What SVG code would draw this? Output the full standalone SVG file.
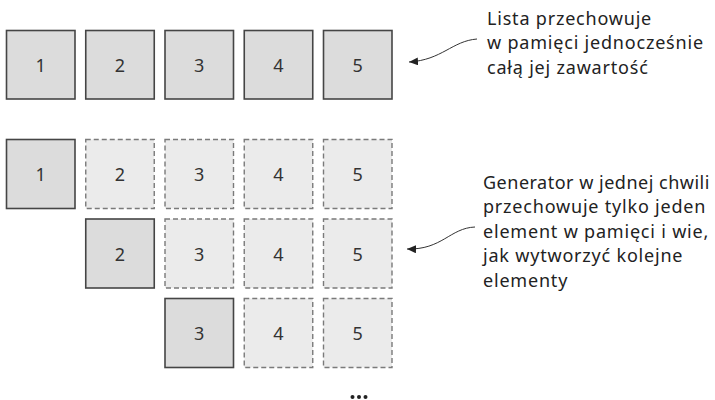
<svg xmlns="http://www.w3.org/2000/svg" width="715" height="400" viewBox="0 0 715 400">
<defs>
<style>
.s{fill:#dcdcdc;stroke:#454545;stroke-width:1.6}
.d{fill:#ebebeb;stroke:#7a7a7a;stroke-width:1.4;stroke-dasharray:5 3}
.n{font-family:"Noto Sans","Open Sans",sans-serif;font-size:18px;fill:#333;text-anchor:middle;dominant-baseline:central}
.t{font-family:"Noto Sans","Open Sans",sans-serif;font-size:18px;letter-spacing:0.8px;fill:#222}
.c{fill:none;stroke:#333;stroke-width:1}
</style>
<marker id="ah" markerWidth="10" markerHeight="8" refX="9" refY="4" orient="auto" markerUnits="userSpaceOnUse">
<path d="M0,0 L9,4 L0,8 Z" fill="#222"/>
</marker>
</defs>
<rect width="715" height="400" fill="#fff"/>
<g id="list">
<g id="l1"><rect class="s" x="6.5" y="30.5" width="68.5" height="68.5"/><text class="n" x="40.75" y="65">1</text></g>
<g id="l2"><rect class="s" x="85.75" y="30.5" width="68.5" height="68.5"/><text class="n" x="120" y="65">2</text></g>
<g id="l3"><rect class="s" x="165" y="30.5" width="68.5" height="68.5"/><text class="n" x="199.25" y="65">3</text></g>
<g id="l4"><rect class="s" x="244.25" y="30.5" width="68.5" height="68.5"/><text class="n" x="278.5" y="65">4</text></g>
<g id="l5"><rect class="s" x="323.5" y="30.5" width="68.5" height="68.5"/><text class="n" x="357.75" y="65">5</text></g>
</g>
<g id="gen1">
<g id="g1a"><rect class="s" x="6.5" y="139.5" width="68.5" height="69"/><text class="n" x="40.75" y="174">1</text></g>
<g id="g1b"><rect class="d" x="85.75" y="139.5" width="68.5" height="69"/><text class="n" x="120" y="174">2</text></g>
<g id="g1c"><rect class="d" x="165" y="139.5" width="68.5" height="69"/><text class="n" x="199.25" y="174">3</text></g>
<g id="g1d"><rect class="d" x="244.25" y="139.5" width="68.5" height="69"/><text class="n" x="278.5" y="174">4</text></g>
<g id="g1e"><rect class="d" x="323.5" y="139.5" width="68.5" height="69"/><text class="n" x="357.75" y="174">5</text></g>
</g>
<g id="gen2">
<g id="g2b"><rect class="s" x="85.75" y="219" width="68.5" height="69"/><text class="n" x="120" y="253.5">2</text></g>
<g id="g2c"><rect class="d" x="165" y="219" width="68.5" height="69"/><text class="n" x="199.25" y="253.5">3</text></g>
<g id="g2d"><rect class="d" x="244.25" y="219" width="68.5" height="69"/><text class="n" x="278.5" y="253.5">4</text></g>
<g id="g2e"><rect class="d" x="323.5" y="219" width="68.5" height="69"/><text class="n" x="357.75" y="253.5">5</text></g>
</g>
<g id="gen3">
<g id="g3c"><rect class="s" x="165" y="298.5" width="68.5" height="69"/><text class="n" x="199.25" y="333">3</text></g>
<g id="g3d"><rect class="d" x="244.25" y="298.5" width="68.5" height="69"/><text class="n" x="278.5" y="333">4</text></g>
<g id="g3e"><rect class="d" x="323.5" y="298.5" width="68.5" height="69"/><text class="n" x="357.75" y="333">5</text></g>
</g>
<g id="ellipsis" fill="#222">
<circle cx="352.5" cy="397" r="2"/><circle cx="359" cy="397" r="2"/><circle cx="365.5" cy="397" r="2"/>
</g>
<g id="note1">
<text class="t" x="487" y="24.5">Lista przechowuje</text>
<text class="t" x="487" y="49">w pamięci jednocześnie</text>
<text class="t" x="487" y="73.5">całą jej zawartość</text>
</g>
<g id="note2">
<text class="t" x="483" y="188.5" style="letter-spacing:0.5px">Generator w jednej chwili</text>
<text class="t" x="483" y="213">przechowuje tylko jeden</text>
<text class="t" x="483" y="237.5">element w pamięci i wie,</text>
<text class="t" x="483" y="262">jak wytworzyć kolejne</text>
<text class="t" x="483" y="286.5">elementy</text>
</g>
<g id="connectors">
<path class="c" d="M477,39 C452,41 442,60 409,62" marker-end="url(#ah)"/>
<path class="c" d="M475,227 C450,228 442,250 407,249" marker-end="url(#ah)"/>
</g>
</svg>
